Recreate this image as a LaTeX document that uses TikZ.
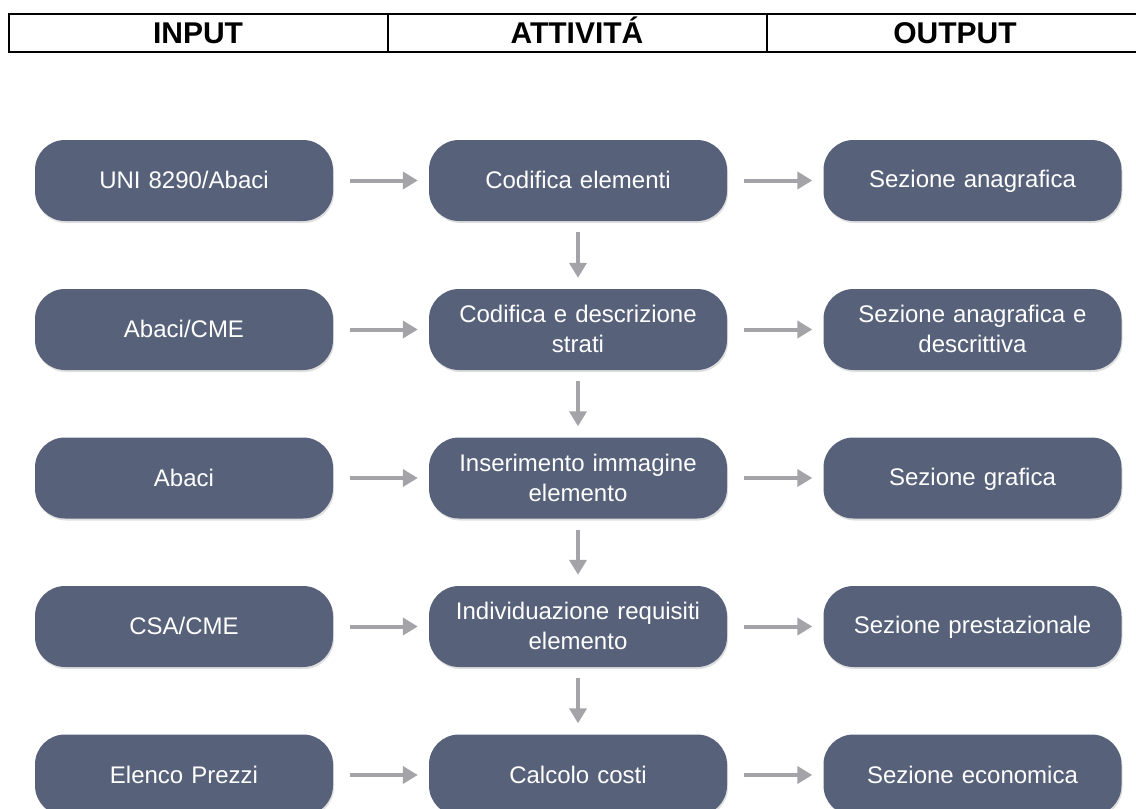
\documentclass[tikz,border=0pt]{standalone}
\usepackage{fontspec}
\setmainfont{Liberation Sans}
\usetikzlibrary{arrows.meta,shadows}
\definecolor{boxfill}{HTML}{57627A}
\definecolor{arrgray}{HTML}{A3A3A8}
\newcommand{\bstrut}{\rule[-3pt]{0pt}{22pt}}
\tikzset{
  box/.style={rectangle, rounded corners=30pt, fill=boxfill, minimum width=298pt, minimum height=81pt,
    text width=288pt, align=center, text=white, font=\fontsize{24}{30}\selectfont,
    execute at begin node=\bstrut, execute at end node=\bstrut,
    drop shadow={shadow xshift=1pt, shadow yshift=-2pt, opacity=0.25}},
  hdr/.style={font=\fontsize{30}{34}\selectfont\bfseries, text=black, anchor=base, inner sep=0pt},
  harr/.style={draw=arrgray, line width=4pt, -{Triangle[length=15pt,width=17pt]}, shorten <=17pt, shorten >=11pt},
  varr/.style={draw=arrgray, line width=4pt, -{Triangle[length=15pt,width=17pt]}, shorten <=11pt, shorten >=11pt}
}
\begin{document}
\begin{tikzpicture}[x=1pt,y=-1pt]
\useasboundingbox (0,0) rectangle (1136,809);
% header table
\draw[line width=2pt] (1145,14) -- (9,14) -- (9,52) -- (1145,52);
\draw[line width=1.6pt] (388,14) -- (388,52);
\draw[line width=1.6pt] (767,14) -- (767,52);
\node[hdr] (hin) at (198,43) {INPUT};
\node[hdr] (hatt) at (577,43) {ATTIVITÁ};
\node[hdr] (hout) at (955,43) {OUTPUT};
% boxes
\node[box] (i1) at (184,180.5) {UNI 8290/Abaci};
\node[box] (a1) at (578,180.5) {Codifica elementi};
\node[box] (o1) at (972.5,180.5) {Sezione anagrafica};
\node[box] (i2) at (184,329.5) {Abaci/CME};
\node[box] (a2) at (578,329.5) {Codifica e descrizione\\strati};
\node[box] (o2) at (972.5,329.5) {Sezione anagrafica e\\descrittiva};
\node[box] (i3) at (184,478) {Abaci};
\node[box] (a3) at (578,478) {Inserimento immagine\\elemento};
\node[box] (o3) at (972.5,478) {Sezione grafica};
\node[box] (i4) at (184,626.5) {CSA/CME};
\node[box] (a4) at (578,626.5) {Individuazione requisiti\\elemento};
\node[box] (o4) at (972.5,626.5) {Sezione prestazionale};
\node[box] (i5) at (184,775) {Elenco Prezzi};
\node[box] (a5) at (578,775) {Calcolo costi};
\node[box] (o5) at (972.5,775) {Sezione economica};
% arrows
\foreach \r in {1,...,5}{
  \draw[harr] (i\r) -- (a\r);
  \draw[harr] (a\r) -- (o\r);
}
\draw[varr] (a1) -- (a2);
\draw[varr] (a2) -- (a3);
\draw[varr] (a3) -- (a4);
\draw[varr] (a4) -- (a5);
\end{tikzpicture}
\end{document}
